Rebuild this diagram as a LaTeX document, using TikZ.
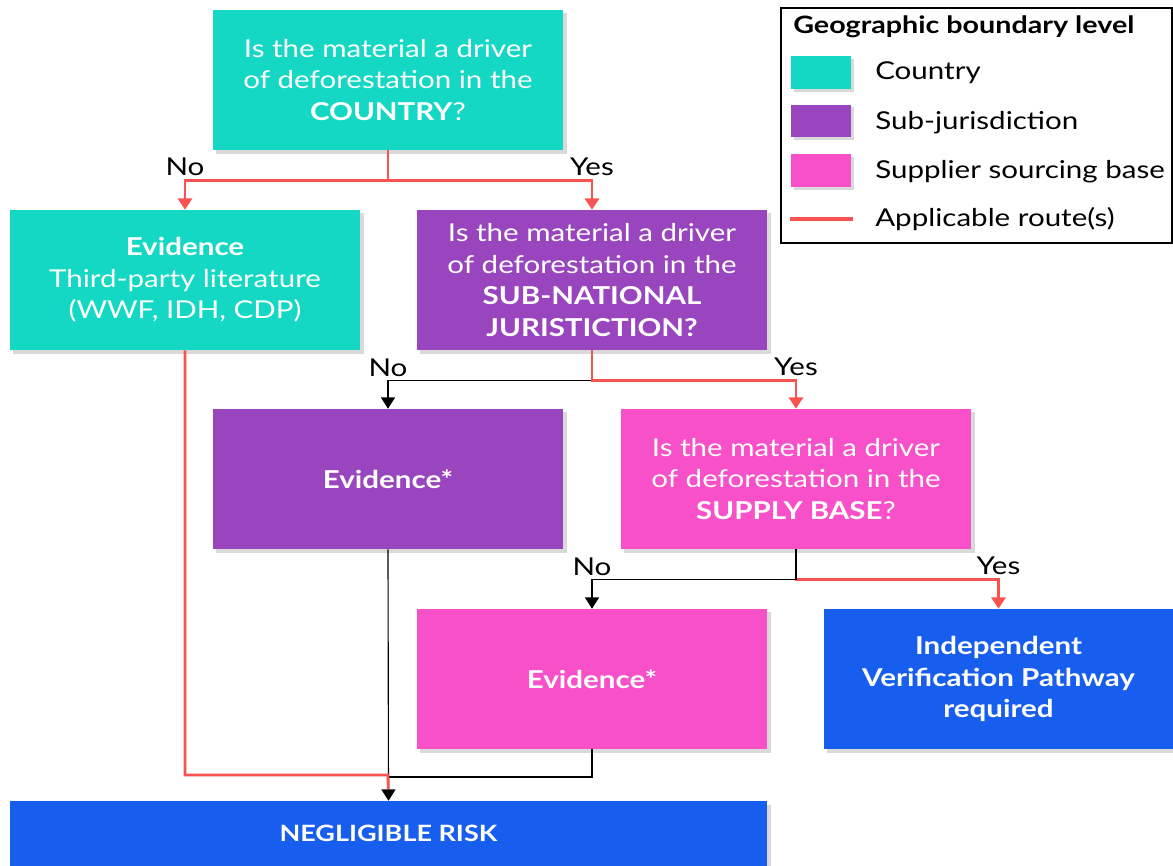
\documentclass[tikz,border=0pt]{standalone}
\usepackage{fontspec}
\setmainfont{Lato}[FakeStretch=1.2]
\usepackage{tikz}
\usetikzlibrary{arrows.meta,shadows}

\definecolor{ctry}{RGB}{20,216,196}
\definecolor{subj}{RGB}{152,69,190}
\definecolor{supl}{RGB}{247,80,200}
\definecolor{outc}{RGB}{23,94,238}
\definecolor{rte}{RGB}{250,82,80}

\tikzset{
  box/.style={minimum width=8.75cm, minimum height=3.5cm, align=center,
    text=white, inner sep=2pt,
    font=\fontsize{17.5}{22.5}\selectfont,
    drop shadow={opacity=0.3, shadow xshift=2.5pt, shadow yshift=-2.5pt}},
  swatch/.style={minimum width=1.5cm, minimum height=0.82cm, inner sep=0pt,
    drop shadow={opacity=0.3, shadow xshift=2pt, shadow yshift=-2pt}},
  route/.style={draw=rte, line width=2pt},
  flow/.style={draw=black, line width=0.8pt},
  rtip/.style={-{Triangle[width=10pt,length=8pt]}},
  btip/.style={-{Triangle[width=10pt,length=8pt,fill=black]}},
  lbl/.style={font=\fontsize{17.5}{20}\selectfont, above=1pt, inner sep=1pt},
  leg/.style={font=\fontsize{17.5}{20}\selectfont, anchor=west, inner sep=0pt}
}

\begin{document}
\begin{tikzpicture}[x=0.025cm, y=-0.025cm]
  \useasboundingbox (0,0) rectangle (1173,866);

  % question and evidence boxes
  \node[box, fill=ctry] (q1) at (388,80)
    {Is the material a driver\\of deforestation in the\\\textbf{COUNTRY}?};
  \node[box, fill=ctry] (evc) at (185,280)
    {\textbf{Evidence}\\Third-party literature\\(WWF, IDH, CDP)};
  \node[box, fill=subj] (q2) at (592,280)
    {Is the material a driver\\of deforestation in the\\\textbf{SUB-NATIONAL}\\\textbf{JURISTICTION?}};
  \node[box, fill=subj] (evp) at (388,479) {\textbf{Evidence*}};
  \node[box, fill=supl] (q3) at (796,479)
    {Is the material a driver\\of deforestation in the\\\textbf{SUPPLY BASE}?};
  \node[box, fill=supl] (evs) at (592,679) {\textbf{Evidence*}};
  \node[box, fill=outc, minimum width=8.725cm] (ivp) at (998.5,679)
    {\textbf{Independent}\\\textbf{Verification Pathway}\\\textbf{required}};
  \node[box, fill=outc, minimum width=18.925cm, minimum height=1.625cm,
    font=\fontsize{16}{20}\selectfont] (neg) at (388.5,833.5)
    {\textbf{NEGLIGIBLE RISK}};

  % country split
  \draw[route, rtip] (q1.south) -- ++(0,30) -| node[lbl, pos=.5, text=black] {No} (evc.north);
  \draw[route, rtip] (q1.south) -- ++(0,30) -| node[lbl, pos=.5] {Yes} (q2.north);

  % sub-national split
  \draw[flow, btip] (q2.south) -- ++(0,30) -| node[lbl, pos=.5] {No} (evp.north);
  \draw[route, rtip] (q2.south) -- ++(0,30) -| node[lbl, pos=.5] {Yes} (q3.north);

  % supply base split
  \draw[route, rtip] (q3.south) -- ++(0,30) -| node[lbl, pos=.5] {Yes} (ivp.north);
  \draw[flow, btip] (q3.south) -- ++(0,30) -| node[lbl, pos=.5] {No} (evs.north);

  % to negligible risk
  \coordinate (join) at (388,777);
  \draw[flow, btip] (evp.south) -- (neg.north);
  \draw[flow] (evs.south) |- (join);
  \draw[route, shorten >=8pt] (evc.south) |- (388,775) -- (neg.north);

  % legend
  \draw[line width=1.2pt] (781,8) rectangle (1172,243);
  \node[leg, font=\fontsize{17}{20}\selectfont\bfseries] (legt) at (793,27) {Geographic boundary level};
  \node[swatch, fill=ctry] (sw1) at (821,72.5) {};
  \node[swatch, fill=subj] (sw2) at (821,121) {};
  \node[swatch, fill=supl] (sw3) at (821,170.5) {};
  \draw[route, line width=2.5pt] (790,219) -- (853,219);
  \node[leg] (lg1) at (875,73) {Country};
  \node[leg] (lg2) at (875,123) {Sub-jurisdiction};
  \node[leg] (lg3) at (875,172) {Supplier sourcing base};
  \node[leg] (lg4) at (875,219) {Applicable route(s)};
\end{tikzpicture}
\end{document}
